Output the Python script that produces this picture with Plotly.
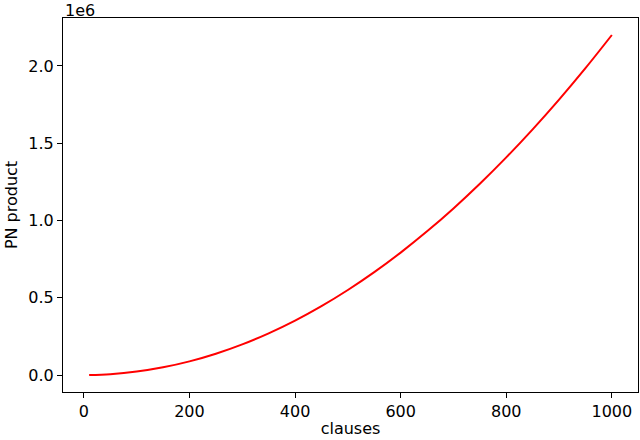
import plotly.graph_objects as go

# clause counts and the P*N product
clauses = [10, 50, 100, 150, 200, 250, 300, 350, 400, 450, 500,
           550, 600, 650, 700, 750, 800, 850, 900, 950, 1000]
pn_product = [220, 5500, 22000, 49500, 88000, 137500, 198000, 269500, 352000,
              445500, 550000, 665500, 792000, 929500, 1078000, 1237500,
              1408000, 1589500, 1782000, 1985500, 2200000]

x_ticks = [0, 200, 400, 600, 800, 1000]
y_ticks = [0, 500000, 1000000, 1500000, 2000000]
y_tick_labels = ["0.0", "0.5", "1.0", "1.5", "2.0"]

font = dict(family="DejaVu Sans", size=16, color="black")

fig = go.Figure()
fig.add_trace(go.Scatter(
    x=clauses,
    y=pn_product,
    mode="lines",
    line=dict(color="red", width=2, shape="spline"),
    showlegend=False,
))

axis_style = dict(
    showline=True,
    linecolor="black",
    linewidth=1.2,
    mirror=True,
    ticks="outside",
    ticklen=5,
    tickwidth=1,
    tickcolor="black",
    showgrid=False,
    zeroline=False,
    tickfont=font,
    automargin=False,
)

fig.update_layout(
    width=640,
    height=440,
    margin=dict(l=63, r=2, t=18, b=48),
    plot_bgcolor="white",
    paper_bgcolor="white",
    font=font,
    xaxis=dict(
        range=[-39.5, 1049.5],
        tickvals=x_ticks,
        title=dict(text="clauses", font=font, standoff=2),
        **axis_style,
    ),
    yaxis=dict(
        range=[-110000, 2310000],
        tickvals=y_ticks,
        ticktext=y_tick_labels,
        title=dict(text="PN product", font=font, standoff=6),
        **axis_style,
    ),
)

fig.add_annotation(
    text="1e6",
    xref="paper", yref="paper",
    x=0, y=1,
    xanchor="left", yanchor="bottom",
    showarrow=False,
    font=font,
    yshift=-4,
)

# drop the default 8px body margin so the figure fills the window exactly
fig.write_html(
    "out.html",
    config={"displayModeBar": False},
    post_script="document.body.style.margin = '0';",
)
